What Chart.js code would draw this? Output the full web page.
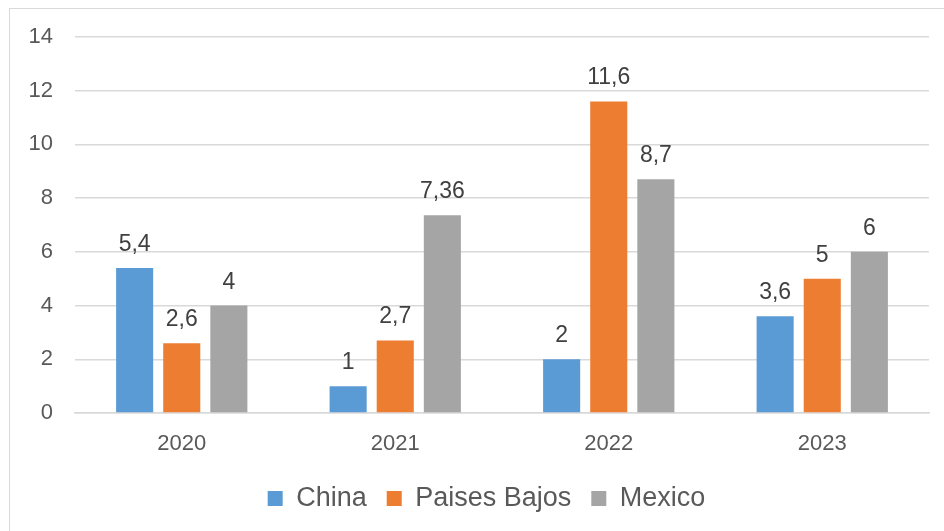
<!DOCTYPE html>
<html>
<head>
<meta charset="utf-8">
<script src="https://cdn.jsdelivr.net/npm/chart.js@4.4.1/dist/chart.umd.min.js"></script>
<style>
  html, body { margin: 0; padding: 0; background: #fff; overflow: hidden; }
  #frame {
    position: absolute; left: 9px; top: 8px; width: 1000px; height: 600px;
    border-left: 1.5px solid #d9d9d9; border-top: 1.5px solid #d9d9d9;
  }
  #wrap { position: absolute; left: 0; top: 0; width: 944px; height: 531px; }
</style>
</head>
<body>
<div id="frame"></div>
<div id="wrap"><canvas id="chart"></canvas></div>
<script>
const years = ['2020', '2021', '2022', '2023'];
const china = [5.4, 1, 2, 3.6];
const paisesBajos = [2.6, 2.7, 11.6, 5];
const mexico = [4, 7.36, 8.7, 6];

const FONT = "'Liberation Sans', Arial, sans-serif";
const TEXT = '#595959';

// value labels above each bar, decimal comma
const valueLabels = {
    id: 'valueLabels',
    afterDatasetsDraw(chart) {
        const ctx = chart.ctx;
        ctx.save();
        ctx.font = '23px ' + FONT;
        ctx.fillStyle = '#404040';
        ctx.textAlign = 'center';
        ctx.textBaseline = 'alphabetic';
        chart.data.datasets.forEach((ds, i) => {
            chart.getDatasetMeta(i).data.forEach((bar, j) => {
                const txt = String(ds.data[j]).replace('.', ',');
                ctx.fillText(txt, bar.x, bar.y - 17);
            });
        });
        ctx.restore();
    }
};

// nudge the legend to sit under the plot area centre
const legendShift = {
    id: 'legendShift',
    afterLayout(chart) {
        const lg = chart.legend;
        if (!lg) return;
        lg.left += 22;
        lg.right += 22;
        lg.top -= 9;
        lg.bottom -= 9;
    }
};

new Chart(document.getElementById('chart'), {
    type: 'bar',
    data: {
        labels: years,
        datasets: [
            { label: 'China', data: china, backgroundColor: '#5B9BD5' },
            { label: 'Paises Bajos', data: paisesBajos, backgroundColor: '#ED7D31' },
            { label: 'Mexico', data: mexico, backgroundColor: '#A5A5A5' }
        ]
    },
    options: {
        responsive: true,
        maintainAspectRatio: false,
        animation: false,
        datasets: {
            bar: { categoryPercentage: 0.662, barPercentage: 0.787 }
        },
        layout: { padding: { left: 0, right: 15, top: 37, bottom: 0 } },
        plugins: {
            legend: {
                position: 'bottom',
                labels: {
                    color: TEXT,
                    font: { family: FONT, size: 27 },
                    boxWidth: 15,
                    boxHeight: 15,
                    padding: 20
                }
            },
            tooltip: { enabled: false }
        },
        scales: {
            x: {
                grid: { display: false },
                border: { color: '#d9d9d9', width: 1.5 },
                ticks: { color: TEXT, font: { family: FONT, size: 22 }, padding: 10 },
                afterFit(axis) { axis.height = 61; }
            },
            y: {
                min: 0,
                max: 14,
                ticks: { stepSize: 2, color: TEXT, font: { family: FONT, size: 22 }, padding: 22 },
                grid: { color: '#d9d9d9', lineWidth: 1.5, drawTicks: false },
                border: { display: false },
                afterFit(axis) { axis.width = 75; }
            }
        }
    },
    plugins: [valueLabels, legendShift]
});
</script>
</body>
</html>
